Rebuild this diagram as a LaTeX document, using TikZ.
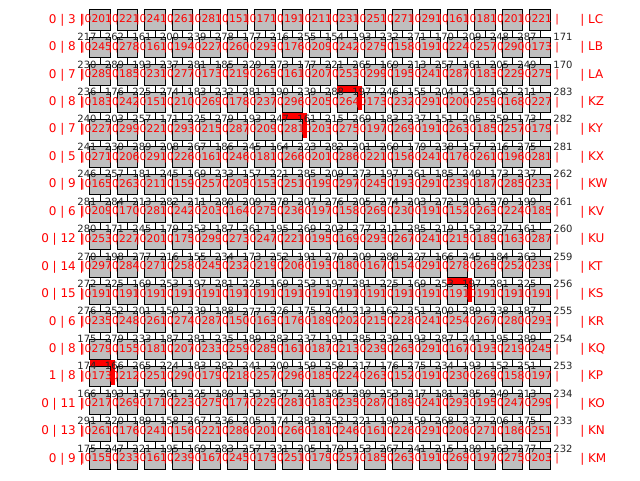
\documentclass[tikz,border=0pt]{standalone}
\usepackage{fontspec}
\setmainfont{DejaVu Sans}
\usetikzlibrary{positioning}
\definecolor{Cell}{HTML}{BFBFBF}
\definecolor{Mark}{HTML}{FF0000}

\tikzset{
  cell/.style={draw, fill=Cell, minimum size=15.4pt, inner sep=0pt, line width=0.75pt},
  celltag/.style={text=Mark, font=\fontsize{8}{9}\selectfont, inner sep=0pt},
  rowtag/.style={text=Mark, font=\fontsize{9}{10}\selectfont, inner sep=0pt},
  linktag/.style={text=black!85, font=\fontsize{7.5}{9}\selectfont, inner sep=0pt},
  link/.style={line width=0.6pt},
  hot/.style={fill=Mark, draw=none}
}

\begin{document}
\begin{tikzpicture}[x=0.75pt, y=-0.75pt]
  \useasboundingbox (0,0) rectangle (640,480);

  % grid points
  \foreach \r in {1,...,17}
    \foreach \c in {1,...,17}
      \coordinate (p-\r-\c) at ({100+27.5*(\c-1)}, {20+27.44*(\r-1)});

  % links between cells
  \foreach \r [evaluate=\r as \s using int(\r+1)] in {1,...,16}
    \foreach \c in {1,...,17}
      \draw[link] (p-\r-\c) -- (p-\s-\c);
  \foreach \r in {1,...,17}
    \foreach \c [evaluate=\c as \d using int(\c+1)] in {1,...,16}
      \draw[link] (p-\r-\c) -- (p-\r-\d);

  % marked cells
  \foreach \r/\c in {4/10, 5/8, 11/14, 14/1}
    \fill[hot] ([shift={(-10.25,-16.5)}]p-\r-\c) rectangle ([shift={(14.5,8)}]p-\r-\c);

  % cells
  \foreach \r in {1,...,17}
    \foreach \c in {1,...,17} {
      \pgfmathtruncatemacro{\v}{150+mod(13*\r*\c+7*\c+31*\r,150)}
      \node[cell] (n-\r-\c) at (p-\r-\c) {};
      \node[celltag] (t-\r-\c) at (n-\r-\c) {|0\v{} |};
    }

  % link counts
  \foreach \r/\a/\b in {2/217/171, 3/230/170, 4/236/283, 5/240/282, 6/241/281,
      7/246/262, 8/281/261, 9/280/260, 10/270/259, 11/272/256, 12/276/255,
      13/175/254, 14/174/253, 15/166/234, 16/291/233, 17/175/232} {
    \node[linktag] (k-\r-1) at ([shift={(-13,-10.5)}]p-\r-1) {\a};
    \foreach \c in {2,...,17} {
      \pgfmathtruncatemacro{\w}{150+mod(17*\r+29*\c+5*\r*\c,140)}
      \node[linktag] (k-\r-\c) at ([shift={(-13,-10.5)}]p-\r-\c) {\w};
    }
    \node[linktag] (k-\r-18) at ([shift={(23,-10.5)}]p-\r-17) {\b};
  }

  % row tags
  \foreach \r/\lt/\rt in {1/0 | 3 |/LC, 2/0 | 8 |/LB, 3/0 | 7 |/LA, 4/0 | 8 |/KZ,
      5/0 | 7 |/KY, 6/0 | 5 |/KX, 7/0 | 9 |/KW, 8/0 | 6 |/KV, 9/0 | 12 |/KU,
      10/0 | 14 |/KT, 11/0 | 15 |/KS, 12/0 | 6 |/KR, 13/0 | 8 |/KQ, 14/1 | 8 |/KP,
      15/0 | 11 |/KO, 16/0 | 13 |/KN, 17/0 | 9 |/KM} {
    \node[rowtag, anchor=east] (lt-\r) at ([xshift=-12]n-\r-1.center) {\lt};
    \node[rowtag, anchor=west] (rt-\r) at ([xshift=30]n-\r-17.center) {| \rt};
  }
\end{tikzpicture}
\end{document}
